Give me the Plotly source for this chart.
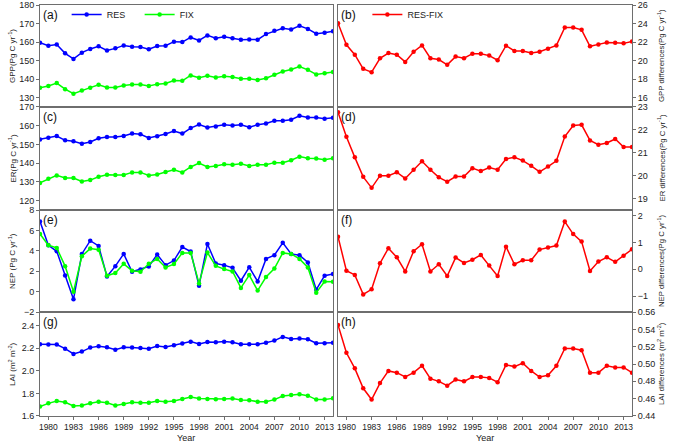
import plotly.graph_objects as go
from plotly.subplots import make_subplots

years = list(range(1979, 2015))

gpp_res = [159.6, 158.0, 158.7, 153.9, 150.9, 154.3, 156.3, 157.7, 155.5, 156.6, 158.2, 157.5,
           157.3, 156.1, 157.9, 158.0, 160.2, 160.0, 162.5, 160.9, 163.6, 162.1, 162.9, 162.0,
           161.3, 161.4, 161.3, 164.3, 166.1, 167.5, 166.8, 168.8, 167.1, 164.5, 165.0, 165.9]
gpp_fix = [135.4, 136.3, 137.9, 134.6, 132.1, 133.9, 135.4, 137.0, 135.5, 135.5, 136.6, 137.1,
           137.1, 136.3, 137.3, 137.7, 139.3, 139.1, 142.0, 140.7, 141.8, 140.9, 141.6, 141.1,
           140.2, 140.2, 139.5, 140.5, 142.3, 144.1, 145.2, 146.8, 145.0, 142.5, 143.2, 143.8]
gpp_diff = [24.04, 21.71, 20.64, 19.11, 18.75, 20.25, 20.82, 20.64, 19.86, 20.96, 21.64, 20.25,
            20.11, 19.54, 20.43, 20.25, 20.75, 20.75, 20.54, 20.04, 21.61, 21.04, 21.04, 20.82,
            20.96, 21.29, 21.64, 23.57, 23.57, 23.32, 21.54, 21.75, 21.96, 21.93, 21.86, 22.07]

er_res = [152.7, 153.6, 154.5, 152.2, 151.7, 150.4, 151.3, 153.3, 154.0, 154.0, 154.5, 155.8,
          155.4, 153.5, 154.4, 155.6, 157.2, 155.8, 158.7, 160.6, 159.0, 159.6, 160.5, 160.1,
          160.5, 159.2, 160.5, 161.2, 162.6, 162.6, 163.2, 165.3, 164.4, 164.4, 163.7, 164.2]
er_fix = [129.5, 131.7, 133.5, 132.1, 132.1, 130.3, 131.0, 132.8, 133.8, 133.7, 133.7, 135.1,
          135.1, 133.5, 134.0, 135.3, 136.5, 135.1, 138.0, 140.1, 138.0, 138.5, 139.4, 139.2,
          139.7, 138.5, 139.2, 139.2, 140.3, 140.3, 141.6, 143.5, 142.7, 142.5, 141.9, 142.7]
er_diff = [22.77, 21.70, 20.80, 19.95, 19.47, 20.00, 20.00, 20.15, 19.88, 20.26, 20.63, 20.26,
           19.93, 19.74, 19.96, 19.96, 20.33, 20.20, 20.36, 20.26, 20.73, 20.80, 20.66, 20.43,
           20.17, 20.40, 20.65, 21.71, 22.19, 22.22, 21.54, 21.35, 21.43, 21.60, 21.25, 21.25]

nep_res = [6.88, 4.55, 3.96, 1.59, -0.75, 3.70, 5.00, 4.48, 1.49, 2.50, 3.70, 1.95,
           2.18, 2.47, 3.64, 2.60, 3.05, 4.38, 3.93, 0.58, 4.68, 2.76, 2.60, 2.34,
           1.07, 2.40, 1.00, 3.21, 3.57, 4.80, 3.70, 3.57, 2.86, 0.19, 1.56, 1.72]
nep_fix = [5.65, 4.55, 4.29, 2.50, 0.00, 3.47, 4.22, 4.12, 1.56, 1.82, 2.73, 2.05,
           1.95, 2.73, 3.21, 2.37, 2.70, 3.80, 3.80, 0.81, 3.83, 2.53, 2.21, 1.98,
           0.36, 1.62, 0.10, 1.43, 2.27, 3.80, 3.70, 3.21, 2.37, -0.10, 1.00, 0.97]
nep_diff = [1.22, -0.05, -0.21, -0.94, -0.75, 0.23, 0.79, 0.45, -0.08, 0.68, 0.94, -0.08,
            0.19, -0.25, 0.44, 0.24, 0.36, 0.54, 0.14, -0.25, 0.85, 0.19, 0.34, 0.34,
            0.74, 0.82, 0.89, 1.79, 1.32, 1.04, -0.06, 0.29, 0.45, 0.28, 0.51, 0.75]

lai_res = [2.235, 2.232, 2.232, 2.196, 2.149, 2.170, 2.205, 2.217, 2.208, 2.187, 2.208, 2.205,
           2.202, 2.196, 2.220, 2.211, 2.226, 2.241, 2.258, 2.238, 2.255, 2.252, 2.258, 2.252,
           2.235, 2.235, 2.235, 2.249, 2.267, 2.300, 2.282, 2.285, 2.279, 2.244, 2.244, 2.249]
lai_fix = [1.683, 1.712, 1.733, 1.721, 1.689, 1.692, 1.712, 1.727, 1.718, 1.694, 1.706, 1.721,
           1.718, 1.718, 1.733, 1.727, 1.733, 1.751, 1.768, 1.754, 1.751, 1.748, 1.751, 1.754,
           1.742, 1.739, 1.727, 1.727, 1.745, 1.777, 1.786, 1.792, 1.780, 1.745, 1.745, 1.756]
lai_diff = [0.545, 0.513, 0.495, 0.472, 0.459, 0.478, 0.492, 0.490, 0.485, 0.490, 0.498, 0.483,
            0.480, 0.475, 0.482, 0.480, 0.485, 0.485, 0.484, 0.479, 0.499, 0.497, 0.501, 0.492,
            0.485, 0.487, 0.498, 0.518, 0.518, 0.516, 0.490, 0.490, 0.498, 0.496, 0.496, 0.490]

x_ticks = list(range(1980, 2014, 3))

left_titles = ["GPP(Pg C yr<sup>-1</sup>)", "ER(Pg C yr<sup>-1</sup>)",
               "NEP (Pg C yr<sup>-1</sup>)", "LAI (m<sup>2</sup> m<sup>-2</sup>)"]
right_titles = ["GPP differences(Pg C yr<sup>-1</sup>)", "ER differences(Pg C yr<sup>-1</sup>)",
                "NEP differences(Pg C yr<sup>-1</sup>)", "LAI differences (m<sup>2</sup> m<sup>-2</sup>)"]
panel_labels = [["(a)", "(b)"], ["(c)", "(d)"], ["(e)", "(f)"], ["(g)", "(h)"]]

left_ranges = [[125, 180], [115, 170], [-2, 8], [1.6, 2.52]]
left_dticks = [10, 10, 2, 0.2]
left_t0 = [130, 120, -2, 1.6]
left_fmt = ["", "", "", ".1f"]
right_ranges = [[15, 26], [18.5, 23], [-1.6, 2.22], [0.44, 0.56]]
right_dticks = [2, 1, 1, 0.02]
right_t0 = [16, 19, -1, 0.44]
right_fmt = ["", "", "", ".2f"]

res_sets = [gpp_res, er_res, nep_res, lai_res]
fix_sets = [gpp_fix, er_fix, nep_fix, lai_fix]
diff_sets = [gpp_diff, er_diff, nep_diff, lai_diff]

BLUE = "#0000FF"
GREEN = "#00FF00"
RED = "#FF0000"
FRAME = "#6e6e6e"
TXT = "#222222"
FONT = "Liberation Sans, Arial, sans-serif"

fig = make_subplots(rows=4, cols=2, vertical_spacing=0, horizontal_spacing=0.01)

row_domains = [[0.752, 1.0], [0.501, 0.752], [0.253, 0.501], [0.0, 0.253]]
col_domains = [[0.0, 0.4949], [0.5034, 1.0]]

for r in range(4):
    first = (r == 0)
    fig.add_trace(go.Scatter(x=years, y=res_sets[r], mode="lines+markers", name="RES",
                             line=dict(color=BLUE, width=1.5), marker=dict(color=BLUE, size=4.5),
                             showlegend=first, legend="legend"), row=r + 1, col=1)
    fig.add_trace(go.Scatter(x=years, y=fix_sets[r], mode="lines+markers", name="FIX",
                             line=dict(color=GREEN, width=1.5), marker=dict(color=GREEN, size=4.5),
                             showlegend=first, legend="legend"), row=r + 1, col=1)
    fig.add_trace(go.Scatter(x=years, y=diff_sets[r], mode="lines+markers", name="RES-FIX",
                             line=dict(color=RED, width=1.5), marker=dict(color=RED, size=4.5),
                             showlegend=first, legend="legend2"), row=r + 1, col=2)

for r in range(4):
    last = (r == 3)
    for c in range(2):
        fig.update_xaxes(domain=col_domains[c], range=[1979, 2014], tickmode="array",
                         tickvals=x_ticks, showticklabels=last, ticks="outside" if last else "",
                         ticklen=3, tickcolor=FRAME, showline=True, mirror=True, linecolor=FRAME,
                         linewidth=1, showgrid=False, zeroline=False,
                         tickfont=dict(size=8.5, color=TXT),
                         row=r + 1, col=c + 1)
    fig.update_yaxes(domain=row_domains[r], range=left_ranges[r], tick0=left_t0[r],
                     dtick=left_dticks[r], tickformat=left_fmt[r], ticks="outside", ticklen=3,
                     tickcolor=FRAME, showline=True, mirror=True, linecolor=FRAME, linewidth=1,
                     showgrid=False, zeroline=False, tickfont=dict(size=9, color=TXT),
                     row=r + 1, col=1)
    fig.update_yaxes(domain=row_domains[r], range=right_ranges[r], tick0=right_t0[r],
                     dtick=right_dticks[r], tickformat=right_fmt[r], side="right",
                     ticks="outside", ticklen=3, tickcolor=FRAME, showline=True, mirror=True,
                     linecolor=FRAME, linewidth=1, showgrid=False, zeroline=False,
                     tickfont=dict(size=9, color=TXT),
                     row=r + 1, col=2)
    ymid = (row_domains[r][0] + row_domains[r][1]) / 2
    fig.add_annotation(text=left_titles[r], xref="paper", yref="paper", x=-0.0473, y=ymid,
                       xanchor="center", yanchor="middle", textangle=-90, showarrow=False,
                       font=dict(size=8, color=TXT))
    fig.add_annotation(text=right_titles[r], xref="paper", yref="paper", x=1.049, y=ymid,
                       xanchor="center", yanchor="middle", textangle=-90, showarrow=False,
                       font=dict(size=7.8, color=TXT))
    for c in range(2):
        idx = r * 2 + c + 1
        xr = "x" if idx == 1 else f"x{idx}"
        yr = "y" if idx == 1 else f"y{idx}"
        fig.add_annotation(text=panel_labels[r][c], xref=f"{xr} domain", yref=f"{yr} domain",
                           x=0.003, y=0.99, xanchor="left", yanchor="top", showarrow=False,
                           font=dict(size=12, color="#111"))

for xc in [0.2466, 0.7517]:
    fig.add_annotation(text="Year", xref="paper", yref="paper", x=xc, y=-0.053,
                       xanchor="center", yanchor="middle", showarrow=False,
                       font=dict(size=9, color=TXT))

fig.update_layout(
    width=675, height=446,
    margin=dict(l=40, r=43, t=5, b=30, autoexpand=False),
    paper_bgcolor="white", plot_bgcolor="white",
    font=dict(family=FONT, size=9, color=TXT),
    legend=dict(orientation="h", x=0.045, y=1.012, xanchor="left", yanchor="top",
                bgcolor="rgba(0,0,0,0)", font=dict(size=9), entrywidth=28,
                entrywidthmode="pixels", tracegroupgap=0),
    legend2=dict(orientation="h", x=0.553, y=1.012, xanchor="left", yanchor="top",
                 bgcolor="rgba(0,0,0,0)", font=dict(size=9)),
)

fig.write_html("out.html", config={"displayModeBar": False},
               post_script="document.body.style.margin='0';")
